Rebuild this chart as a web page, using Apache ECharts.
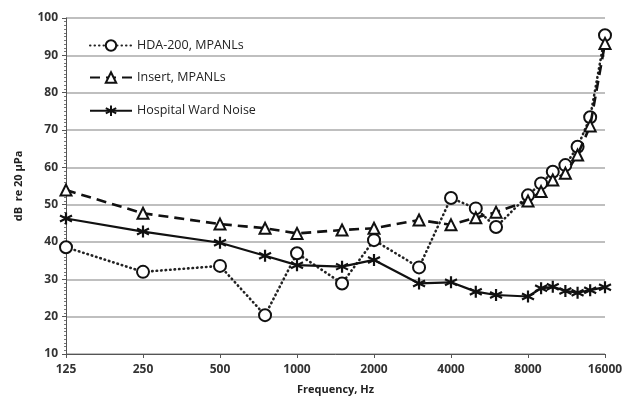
<!DOCTYPE html>
<html>
<head>
<meta charset="utf-8">
<script src="https://cdn.jsdelivr.net/npm/echarts@6/dist/echarts.min.js"></script>
<style>html,body{margin:0;padding:0;background:#fff}#c{width:631px;height:401px}</style>
</head>
<body>
<div id="c"></div>
<script>
var frequencies = [125, 250, 500, 750, 1000, 1500, 2000, 3000, 4000, 5000, 6000, 8000, 9000, 10000, 11200, 12500, 14000, 16000];
var hdaValues = [38.6, 32.0, 33.6, 20.4, 37.0, 28.9, 40.5, 33.2, 51.8, 49.0, 44.0, 52.5, 55.7, 58.8, 60.6, 65.5, 73.4, 95.4];
var insertValues = [53.9, 47.7, 44.8, 43.7, 42.3, 43.2, 43.7, 45.9, 44.6, 46.5, 48.0, 51.0, 53.5, 56.6, 58.4, 63.3, 71.1, 93.2];
var wardValues = [46.3, 42.8, 39.8, 36.3, 33.8, 33.4, 35.2, 28.9, 29.2, 26.7, 25.8, 25.4, 27.6, 28.0, 26.9, 26.4, 27.1, 27.9];
var tickLabels = ['125', '250', '500', '1000', '2000', '4000', '8000', '16000'];
var seriesNames = ['HDA-200, MPANLs', 'Insert, MPANLs', 'Hospital Ward Noise'];

function pts(vals) {
  return frequencies.map(function (f, i) { return [Math.log2(f / 125), vals[i]]; });
}
var starPath = 'path://M0,-10L0,10M-8.66,-5L8.66,5M-8.66,5L8.66,-5';
var chart = echarts.init(document.getElementById('c'));
chart.setOption({
  animation: false,
  backgroundColor: '#fff',
  grid: { left: 66, right: 26, top: 18, bottom: 47 },
  legend: {
    orient: 'vertical', left: 84, top: 34, itemGap: 19, itemWidth: 42, itemHeight: 13,
    textStyle: { fontFamily: 'Open Sans', fontSize: 12.5, color: '#222' },
    data: seriesNames
  },
  xAxis: {
    type: 'value', min: 0, max: 7, interval: 1,
    name: 'Frequency, Hz', nameLocation: 'middle', nameGap: 30,
    nameTextStyle: { fontFamily: 'Open Sans', fontWeight: 'bold', fontSize: 11, color: '#222' },
    axisLine: { lineStyle: { color: '#555', width: 1 } },
    axisTick: { show: true, length: 4, lineStyle: { color: '#555' } },
    splitLine: { show: false },
    axisLabel: {
      margin: 10, fontFamily: 'Open Sans', fontWeight: 'bold', fontSize: 12, color: '#333',
      formatter: function (v) { return tickLabels[Math.round(v)] || ''; }
    }
  },
  yAxis: {
    type: 'value', min: 10, max: 100, interval: 10,
    name: 'dB  re 20 µPa', nameLocation: 'middle', nameGap: 42,
    nameTextStyle: { fontFamily: 'Open Sans', fontWeight: 'bold', fontSize: 11, color: '#222' },
    axisLine: { show: true, lineStyle: { color: '#555', width: 1 } },
    axisTick: { show: true, length: 4, lineStyle: { color: '#555' } },
    minorTick: { show: true, splitNumber: 10, length: 2, lineStyle: { color: '#777' } },
    splitLine: { show: true, lineStyle: { color: '#aaa', width: 1.5 } },
    axisLabel: { margin: 8, fontFamily: 'Open Sans', fontWeight: 'bold', fontSize: 12, color: '#333' }
  },
  series: [
    {
      name: seriesNames[0], type: 'line', data: pts(hdaValues),
      symbol: 'emptyCircle', symbolSize: 12,
      lineStyle: { color: '#222', width: 2.6, type: [0.5, 4], cap: 'round' },
      itemStyle: { color: '#111', borderWidth: 1.7 }, z: 3
    },
    {
      name: seriesNames[1], type: 'line', data: pts(insertValues),
      symbol: 'emptyTriangle', symbolSize: 11,
      lineStyle: { color: '#111', width: 2.6, type: [10, 6] },
      itemStyle: { color: '#111', borderWidth: 1.7 }, z: 4
    },
    {
      name: seriesNames[2], type: 'line', data: pts(wardValues),
      symbol: starPath, symbolSize: 12,
      lineStyle: { color: '#111', width: 2.2 },
      itemStyle: { color: 'none', borderColor: '#111', borderWidth: 2.2 }, z: 5
    }
  ]
});
</script>
</body>
</html>
